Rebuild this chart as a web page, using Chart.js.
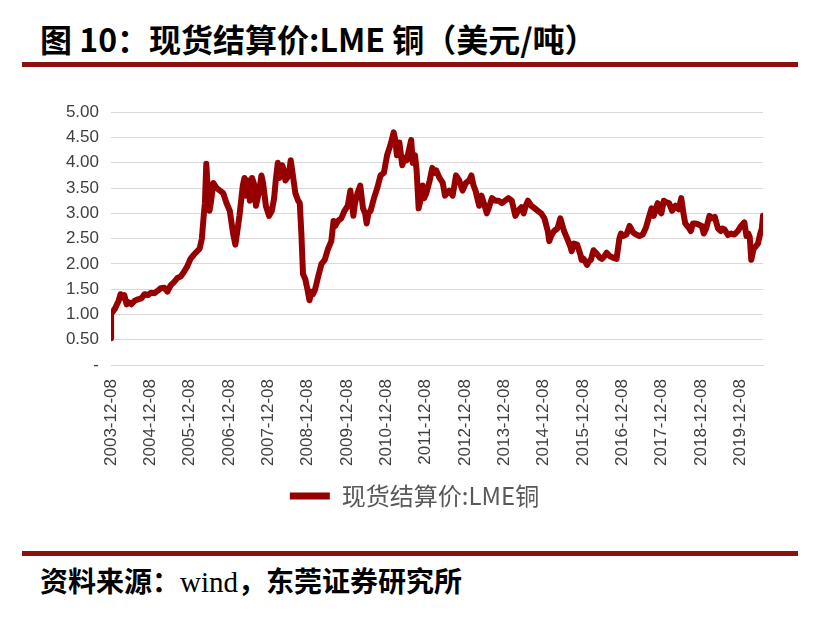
<!DOCTYPE html>
<html>
<head>
<meta charset="utf-8">
<script src="https://cdn.jsdelivr.net/npm/chart.js@4.4.0/dist/chart.umd.min.js"></script>
<style>
  body { margin: 0; background: #fff; width: 816px; height: 618px; position: relative; overflow: hidden; }
  .title { position: absolute; left: 40px; top: 15px; font: bold 32px "Noto Sans CJK SC", sans-serif; color: #000; white-space: nowrap; }
  .rule { position: absolute; left: 22px; width: 776px; height: 5px; background: #8b1010; }
  .source { position: absolute; left: 40px; top: 560px; font: bold 28px "Noto Sans CJK SC", sans-serif; color: #000; white-space: nowrap; }
  .source .w { font-family: "Liberation Serif", serif; font-weight: normal; font-size: 29px; }
  #box { position: absolute; left: 0; top: 90px; width: 816px; height: 450px; }
</style>
</head>
<body>
<div class="title">图 10：现货结算价:LME 铜（美元/吨）</div>
<div class="rule" style="top:62px"></div>
<div id="box"><canvas id="myChart"></canvas></div>
<div class="rule" style="top:551px"></div>
<div class="source">资料来源：<span class="w">wind</span>，东莞证券研究所</div>
<script>
// 现货结算价:LME铜
const seriesName = '现货结算价:LME铜';
const dates = [
  '2003-12-08','2003-12-09','2003-12-22','2004-01-15','2004-02-15','2004-03-05','2004-03-20','2004-04-10','2004-05-01','2004-05-20',
  '2004-06-15','2004-07-15','2004-08-15','2004-09-15','2004-10-15','2004-11-15','2004-12-15','2005-01-15','2005-02-15','2005-03-15',
  '2005-04-15','2005-05-15','2005-06-15','2005-07-15','2005-08-15','2005-09-15','2005-10-15','2005-11-15','2005-12-15','2006-01-15',
  '2006-02-15','2006-03-10','2006-03-31','2006-04-15','2006-04-28','2006-05-11','2006-05-25','2006-06-10','2006-06-25','2006-07-15',
  '2006-08-15','2006-09-15','2006-10-15','2006-11-15','2006-12-15','2007-01-15','2007-02-05','2007-02-20','2007-03-15','2007-04-15',
  '2007-05-01','2007-05-15','2007-06-01','2007-06-20','2007-07-10','2007-08-01','2007-08-15','2007-09-15','2007-10-05','2007-10-20',
  '2007-11-15','2007-12-15','2008-01-10','2008-01-31','2008-02-15','2008-03-05','2008-03-20','2008-04-15','2008-05-01','2008-05-15',
  '2008-06-15','2008-07-03','2008-07-20','2008-08-15','2008-09-10','2008-09-25','2008-10-10','2008-10-25','2008-11-15','2008-12-05',
  '2008-12-24','2009-01-10','2009-01-25','2009-02-15','2009-03-15','2009-04-15','2009-05-15','2009-06-15','2009-07-15','2009-08-05',
  '2009-08-20','2009-09-15','2009-10-15','2009-11-15','2009-12-15','2010-01-08','2010-02-05','2010-02-20','2010-03-15','2010-04-10',
  '2010-05-05','2010-05-25','2010-06-08','2010-06-25','2010-07-15','2010-08-15','2010-09-15','2010-10-15','2010-11-15','2010-12-15',
  '2011-01-15','2011-02-14','2011-03-01','2011-03-16','2011-04-08','2011-05-05','2011-05-25','2011-06-15','2011-07-27','2011-08-10',
  '2011-08-31','2011-09-15','2011-10-04','2011-10-20','2011-11-10','2011-11-25','2011-12-15','2012-01-15','2012-02-08','2012-02-25',
  '2012-03-15','2012-04-15','2012-05-15','2012-06-05','2012-06-25','2012-07-15','2012-08-15','2012-09-15','2012-10-15','2012-11-15',
  '2012-12-15','2013-01-15','2013-02-05','2013-02-25','2013-03-15','2013-04-18','2013-05-10','2013-06-15','2013-06-28','2013-07-15',
  '2013-08-15','2013-09-15','2013-10-15','2013-11-15','2013-12-15','2014-01-15','2014-02-15','2014-03-20','2014-04-15','2014-05-15',
  '2014-06-05','2014-06-25','2014-07-15','2014-08-15','2014-09-15','2014-10-15','2014-11-15','2014-12-15','2015-01-15','2015-01-29',
  '2015-02-15','2015-03-15','2015-04-15','2015-05-12','2015-06-15','2015-07-15','2015-08-15','2015-08-25','2015-09-15','2015-10-15',
  '2015-11-15','2015-11-25','2015-12-15','2016-01-15','2016-02-01','2016-02-20','2016-03-15','2016-04-15','2016-05-15','2016-06-01',
  '2016-06-20','2016-07-15','2016-08-15','2016-09-15','2016-10-15','2016-11-10','2016-11-25','2016-12-15','2017-01-15','2017-02-13',
  '2017-03-15','2017-04-15','2017-05-15','2017-06-15','2017-07-15','2017-08-15','2017-09-05','2017-09-25','2017-10-15','2017-11-01',
  '2017-11-15','2017-12-05','2017-12-28','2018-01-15','2018-02-15','2018-03-15','2018-04-15','2018-05-15','2018-06-08','2018-06-28',
  '2018-07-15','2018-08-15','2018-09-05','2018-09-25','2018-10-15','2018-11-15','2018-12-15','2019-01-03','2019-01-25','2019-02-25',
  '2019-03-15','2019-04-15','2019-05-15','2019-06-10','2019-06-25','2019-07-15','2019-08-15','2019-09-15','2019-10-15','2019-11-15',
  '2019-12-15','2020-01-15','2020-02-03','2020-02-20','2020-03-05','2020-03-19','2020-04-10','2020-05-01','2020-05-20','2020-06-10',
  '2020-06-25','2020-07-06'
];
const prices = [
  0.53,1.02,1.05,1.12,1.26,1.40,1.33,1.38,1.20,1.24,
  1.20,1.27,1.30,1.32,1.40,1.38,1.43,1.42,1.47,1.52,
  1.53,1.45,1.58,1.64,1.72,1.75,1.84,1.95,2.10,2.18,
  2.25,2.30,2.50,2.90,3.20,3.98,3.45,3.05,3.25,3.60,
  3.50,3.45,3.40,3.20,3.05,2.60,2.38,2.60,2.95,3.55,
  3.70,3.35,3.65,3.25,3.70,3.55,3.15,3.45,3.75,3.60,
  3.15,2.95,3.05,3.30,3.65,4.00,3.70,3.95,3.85,3.65,
  3.75,4.05,3.80,3.40,3.25,3.20,2.60,1.80,1.70,1.50,
  1.28,1.45,1.40,1.50,1.75,2.00,2.08,2.30,2.45,2.85,
  2.75,2.85,2.90,3.05,3.15,3.45,2.95,3.20,3.40,3.55,
  3.10,3.00,2.80,3.00,3.05,3.30,3.50,3.75,3.80,4.15,
  4.35,4.60,4.45,4.15,4.40,3.95,4.10,4.05,4.45,4.00,
  4.15,3.85,3.10,3.25,3.55,3.30,3.40,3.65,3.90,3.80,
  3.85,3.70,3.60,3.35,3.40,3.45,3.35,3.75,3.65,3.45,
  3.60,3.65,3.75,3.55,3.45,3.15,3.35,3.10,3.00,3.10,
  3.30,3.25,3.25,3.20,3.25,3.30,3.25,2.95,3.05,3.12,
  3.00,3.15,3.25,3.15,3.10,3.05,3.00,2.90,2.65,2.45,
  2.55,2.65,2.70,2.90,2.65,2.50,2.33,2.25,2.40,2.38,
  2.18,2.08,2.10,1.98,2.05,2.08,2.27,2.20,2.12,2.10,
  2.14,2.22,2.15,2.12,2.10,2.50,2.60,2.55,2.58,2.75,
  2.63,2.58,2.55,2.58,2.72,2.95,3.10,2.95,3.10,3.20,
  3.05,3.00,3.25,3.22,3.20,3.05,3.15,3.08,3.30,3.00,
  2.80,2.72,2.65,2.80,2.80,2.78,2.75,2.60,2.70,2.95,
  2.90,2.93,2.70,2.65,2.70,2.68,2.57,2.60,2.58,2.65,
  2.75,2.82,2.55,2.60,2.53,2.08,2.30,2.35,2.40,2.60,
  2.70,2.95
];
const tickYears = [2003,2004,2005,2006,2007,2008,2009,2010,2011,2012,2013,2014,2015,2016,2017,2018,2019];
const yTicks = [0,0.5,1,1.5,2,2.5,3,3.5,4,4.5,5];

const DAY = 86400000;
const toDay = s => Date.parse(s) / DAY;
const points = dates.map((d, i) => ({ x: toDay(d), y: prices[i] }));

function dayLabel(v) {
    const d = new Date(Math.round(v) * DAY);
    const mm = String(d.getUTCMonth() + 1).padStart(2, '0');
    const dd = String(d.getUTCDate()).padStart(2, '0');
    return d.getUTCFullYear() + '-' + mm + '-' + dd;
}

// legend sits a bit right of centre in the original
const legendShift = {
    id: 'legendShift',
    afterLayout: function (chart) {
        chart.legend.left += 33;
        chart.legend.right += 33;
    }
};

const ctx = document.getElementById('myChart');
const myChart = new Chart(ctx, {
    type: 'line',
    data: {
        datasets: [{
            label: seriesName,
            data: points,
            borderColor: '#960000',
            backgroundColor: '#960000',
            borderWidth: 6,
            pointRadius: 0,
            tension: 0,
            borderJoinStyle: 'round',
            borderCapStyle: 'round'
        }]
    },
    options: {
        responsive: true,
        maintainAspectRatio: false,
        animation: false,
        layout: { padding: { top: 17, right: 53, bottom: 22, left: 0 } },
        plugins: {
            tooltip: { enabled: false },
            legend: {
                position: 'bottom',
                labels: {
                    boxWidth: 40,
                    boxHeight: 7,
                    color: '#595959',
                    font: { family: '"Noto Sans CJK SC", sans-serif', size: 24 },
                    generateLabels: function (chart) {
                        return Chart.defaults.plugins.legend.labels.generateLabels(chart).map(function (l) {
                            l.lineWidth = 0;
                            l.fillStyle = '#960000';
                            return l;
                        });
                    }
                }
            }
        },
        scales: {
            x: {
                type: 'linear',
                min: toDay('2003-12-08'),
                max: toDay('2020-07-06'),
                grid: { display: false },
                border: { display: true, color: '#d9d9d9', width: 1 },
                afterBuildTicks: function (scale) {
                    scale.ticks = tickYears.map(y => ({ value: Date.UTC(y, 11, 8) / DAY }));
                },
                afterFit: function (scale) { scale.height = 109; },
                ticks: {
                    autoSkip: false,
                    minRotation: 90,
                    maxRotation: 90,
                    padding: 6,
                    color: '#404040',
                    font: { family: '"Liberation Sans", sans-serif', size: 17 },
                    callback: v => dayLabel(v)
                }
            },
            y: {
                min: 0,
                max: 5,
                grid: { color: '#d9d9d9', drawTicks: false },
                border: { display: false },
                afterBuildTicks: function (scale) {
                    scale.ticks = yTicks.map(v => ({ value: v }));
                },
                afterFit: function (scale) { scale.width = 111; },
                ticks: {
                    padding: 12,
                    color: '#404040',
                    font: { family: '"Liberation Sans", sans-serif', size: 17 },
                    callback: v => v === 0 ? '-' : v.toFixed(2)
                }
            }
        }
    },
    plugins: [legendShift]
});
</script>
</body>
</html>
